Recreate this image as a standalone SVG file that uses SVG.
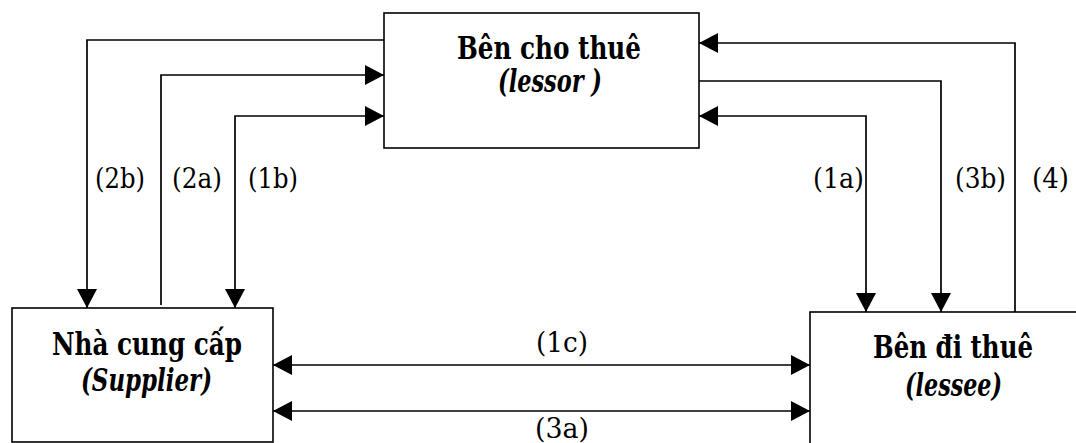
<svg xmlns="http://www.w3.org/2000/svg" width="1076" height="443" viewBox="0 0 1076 443">
<style>
.box{fill:#fff;stroke:#000;stroke-width:1.6}
.ln{fill:none;stroke:#000;stroke-width:1.7}
.t{font-weight:bold;font-size:32px;text-anchor:middle}
.ti{font-weight:bold;font-style:italic;font-size:31px;text-anchor:middle}
.lb{font-size:28px}
.lc{font-size:28px;text-anchor:middle}
</style>
<defs>
<marker id="ah" markerUnits="userSpaceOnUse" markerWidth="20" markerHeight="20" refX="19" refY="10" orient="auto-start-reverse" viewBox="0 0 20 20">
<path d="M0,0 L19,10 L0,20 Z" fill="#000"/>
</marker>
</defs>
<g font-family="DejaVu Serif, serif" fill="#000">
<g id="lessor">
<rect class="box" x="384" y="13" width="315" height="135"/>
<text class="t" x="549" y="59" textLength="184" lengthAdjust="spacingAndGlyphs">Bên cho thuê</text>
<text class="ti" x="550" y="92" textLength="104" lengthAdjust="spacingAndGlyphs">(lessor )</text>
</g>
<g id="supplier">
<rect class="box" x="12" y="308" width="261" height="134"/>
<text class="t" x="147" y="355" textLength="190" lengthAdjust="spacingAndGlyphs">Nhà cung cấp</text>
<text class="ti" x="146.5" y="391" textLength="131" lengthAdjust="spacingAndGlyphs">(Supplier)</text>
</g>
<g id="lessee">
<rect class="box" x="810" y="312" width="268" height="133"/>
<text class="t" x="953" y="358" textLength="160" lengthAdjust="spacingAndGlyphs">Bên đi thuê</text>
<text class="ti" x="953.5" y="396" textLength="97" lengthAdjust="spacingAndGlyphs">(lessee)</text>
</g>
<g id="connectors">
<path class="ln" d="M384,40 H87 V308" marker-end="url(#ah)"/>
<path class="ln" d="M161,305 V75 H384" marker-end="url(#ah)"/>
<path class="ln" d="M384,116 H235 V308" marker-start="url(#ah)" marker-end="url(#ah)"/>
<path class="ln" d="M699,116 H866 V312" marker-start="url(#ah)" marker-end="url(#ah)"/>
<path class="ln" d="M699,81 H941 V312" marker-end="url(#ah)"/>
<path class="ln" d="M1015,312 V43 H699" marker-end="url(#ah)"/>
<path class="ln" d="M273,365 H810" marker-start="url(#ah)" marker-end="url(#ah)"/>
<path class="ln" d="M273,411 H810" marker-start="url(#ah)" marker-end="url(#ah)"/>
</g>
<g id="labels">
<text class="lb" x="95" y="188" textLength="50" lengthAdjust="spacingAndGlyphs">(2b)</text>
<text class="lb" x="172" y="188" textLength="50" lengthAdjust="spacingAndGlyphs">(2a)</text>
<text class="lb" x="248" y="188" textLength="50" lengthAdjust="spacingAndGlyphs">(1b)</text>
<text class="lb" x="813" y="188" textLength="51" lengthAdjust="spacingAndGlyphs">(1a)</text>
<text class="lb" x="955" y="188" textLength="51" lengthAdjust="spacingAndGlyphs">(3b)</text>
<text class="lb" x="1032" y="188" textLength="37" lengthAdjust="spacingAndGlyphs">(4)</text>
<text class="lc" x="562" y="352" textLength="52" lengthAdjust="spacingAndGlyphs">(1c)</text>
<text class="lc" x="562" y="438" textLength="54" lengthAdjust="spacingAndGlyphs">(3a)</text>
</g>
</g>
</svg>
